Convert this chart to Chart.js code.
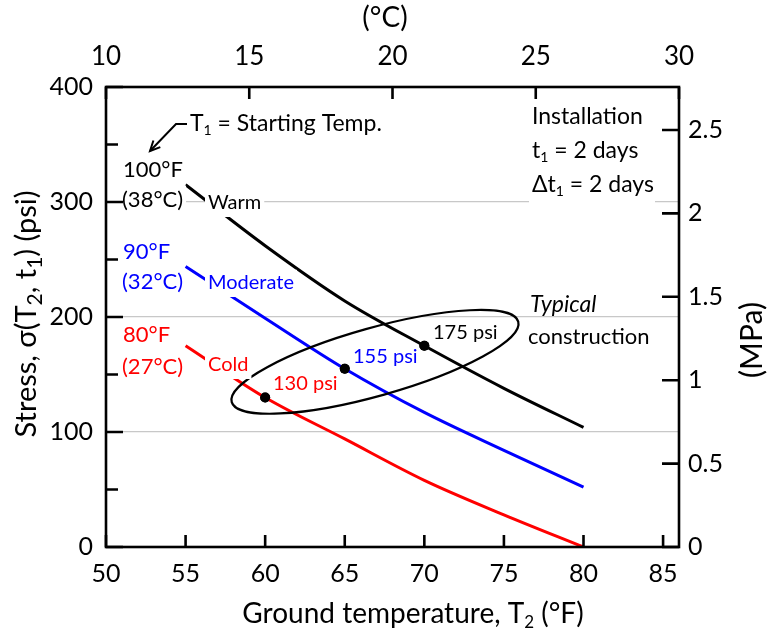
<!DOCTYPE html>
<html lang="en">
<head>
  <meta charset="UTF-8">
  <title>Stress vs ground temperature</title>
  <style>
    body { margin: 0; background: #fff; }
    #wrap { width: 768px; height: 636px; }
  </style>
</head>
<body>
  <div id="wrap"><canvas id="stressChart" width="768" height="636"></canvas></div>

  <script src="https://cdn.jsdelivr.net/npm/chart.js"></script>
  <script>
    // ground temperature T2 (°F) and stress sigma(T2, t1) in psi for each starting temperature
    const groundTempF = [55, 60, 65, 70, 75, 80];
    const warmStress = [315, 262, 214, 175, 138, 104];      // 100°F start
    const moderateStress = [244, 199, 155, 117, 84, 52];    // 90°F start
    const coldStress = [175, 130, 94, 58, 28, 0];           // 80°F start

    // typical construction points
    const typicalTempF = [60, 65, 70];
    const typicalStress = [130, 155, 175];

    // ellipse around typical construction: major axis ends (°F, psi)
    const ellipseEnds = [[57.9, 126], [75.9, 196]];

    // axis ticks
    const tempFTicks = [50, 55, 60, 65, 70, 75, 80, 85];
    const tempCTicks = [10, 15, 20, 25, 30];
    const psiTicks = [0, 50, 100, 150, 200, 250, 300, 350, 400];
    const mpaTicks = [0, 0.5, 1, 1.5, 2, 2.5];

    const PSI_PER_MPA = 145.038;
    const FONT = 'Lato, "Open Sans", sans-serif';

    Chart.defaults.font.family = FONT;
    Chart.defaults.color = '#000';

    function pts(ys) {
      return groundTempF.map((x, i) => ({ x: x, y: ys[i] }));
    }
    function fixedTicks(values) {
      return s => { s.ticks = values.map(v => ({ value: v })); };
    }

    // text with optional subscripts: parts are strings or {sub: '1'}
    function drawRich(ctx, parts, x, y, size, opts) {
      opts = opts || {};
      const style = opts.italic ? 'italic ' : '';
      const base = style + size + 'px ' + FONT;
      const small = Math.round(size * (opts.subScale || 0.62)) + 'px ' + FONT;
      let w = 0;
      parts.forEach(p => {
        ctx.font = typeof p === 'string' ? base : small;
        w += ctx.measureText(typeof p === 'string' ? p : p.sub).width;
      });
      let cx = opts.align === 'center' ? x - w / 2 : x;
      if (opts.bg) {
        ctx.fillStyle = '#fff';
        ctx.fillRect(cx - 3, y - size * 0.66, w + 6, size * 1.36);
      }
      ctx.fillStyle = opts.color || '#000';
      ctx.textAlign = 'left';
      ctx.textBaseline = 'middle';
      parts.forEach(p => {
        if (typeof p === 'string') {
          ctx.font = base;
          ctx.fillText(p, cx, y);
          cx += ctx.measureText(p).width;
        } else {
          ctx.font = small;
          ctx.fillText(p.sub, cx, y + size * 0.3);
          cx += ctx.measureText(p.sub).width;
        }
      });
      return w;
    }

    const labels = [
      { parts: ['100°F'], x: 123, y: 170, size: 22 },
      { parts: ['(38°C)'], x: 122, y: 200, size: 22, bg: true },
      { parts: ['Warm'], x: 208, y: 203, size: 20, bg: true },
      { parts: ['90°F'], x: 123, y: 252, size: 22, color: '#0000ff' },
      { parts: ['(32°C)'], x: 122, y: 282, size: 22, color: '#0000ff' },
      { parts: ['Moderate'], x: 208, y: 283, size: 20, color: '#0000ff', bg: true },
      { parts: ['80°F'], x: 123, y: 335, size: 22, color: '#ff0000' },
      { parts: ['(27°C)'], x: 122, y: 367, size: 22, color: '#ff0000' },
      { parts: ['Cold'], x: 208, y: 365, size: 20, color: '#ff0000', bg: true },
      { parts: ['130 psi'], x: 273, y: 384, size: 20, color: '#ff0000' },
      { parts: ['155 psi'], x: 353, y: 357, size: 20, color: '#0000ff' },
      { parts: ['175 psi'], x: 433, y: 333, size: 20 },
      { parts: ['T', { sub: '1' }, ' = Starting Temp.'], x: 190, y: 124, size: 23 },
      { parts: ['Installation'], x: 532, y: 117, size: 23 },
      { parts: ['t', { sub: '1' }, ' = 2 days'], x: 532, y: 151, size: 23 },
      { parts: ['\u0394t', { sub: '1' }, ' = 2 days'], x: 532, y: 185, size: 23 },
      { parts: ['Typical'], x: 530, y: 305, size: 23, italic: true },
      { parts: ['construction'], x: 528, y: 337, size: 22 }
    ];

    const overlay = {
      id: 'overlay',
      afterDatasetsDraw(chart) {
        const ctx = chart.ctx;
        const xs = chart.scales.x, ys = chart.scales.y;

        // ellipse
        const p1 = [xs.getPixelForValue(ellipseEnds[0][0]), ys.getPixelForValue(ellipseEnds[0][1])];
        const p2 = [xs.getPixelForValue(ellipseEnds[1][0]), ys.getPixelForValue(ellipseEnds[1][1])];
        const cx = (p1[0] + p2[0]) / 2, cy = (p1[1] + p2[1]) / 2;
        const a = Math.hypot(p2[0] - p1[0], p2[1] - p1[1]) / 2;
        const rot = Math.atan2(p2[1] - p1[1], p2[0] - p1[0]);
        ctx.save();
        ctx.strokeStyle = '#000';
        ctx.lineWidth = 2.2;
        ctx.beginPath();
        ctx.ellipse(cx, cy, a, 34, rot, 0, Math.PI * 2);
        ctx.stroke();
        ctx.restore();

        // dots on top of the ellipse
        chart.getDatasetMeta(3).controller.draw();

        ctx.save();
        // white block behind installation note
        ctx.fillStyle = '#fff';
        ctx.fillRect(529, 100, 126, 106);

        labels.forEach(l => drawRich(ctx, l.parts, l.x, l.y, l.size, l));

        // arrow to starting temperature labels
        ctx.strokeStyle = '#000';
        ctx.lineWidth = 2;
        ctx.beginPath();
        ctx.moveTo(187, 124);
        ctx.lineTo(176, 124);
        ctx.lineTo(150, 151);
        ctx.stroke();
        const ang = Math.atan2(151 - 124, 150 - 176);
        ctx.beginPath();
        ctx.moveTo(150 - 11 * Math.cos(ang - 0.45), 151 - 11 * Math.sin(ang - 0.45));
        ctx.lineTo(150, 151);
        ctx.lineTo(150 - 11 * Math.cos(ang + 0.45), 151 - 11 * Math.sin(ang + 0.45));
        ctx.stroke();
        ctx.restore();
      },
      afterDraw(chart) {
        const ctx = chart.ctx;
        const ca = chart.chartArea;
        const xs = chart.scales.x, x2 = chart.scales.x2, ys = chart.scales.y, y2 = chart.scales.y2;
        ctx.save();
        ctx.strokeStyle = '#000';
        ctx.lineWidth = 2.6;
        ctx.lineCap = 'square';
        ctx.strokeRect(ca.left, ca.top, ca.right - ca.left, ca.bottom - ca.top);

        // inward tick marks
        ctx.lineCap = 'butt';
        ctx.beginPath();
        xs.ticks.forEach(t => {
          const px = xs.getPixelForValue(t.value);
          ctx.moveTo(px, ca.bottom); ctx.lineTo(px, ca.bottom - 12);
        });
        x2.ticks.forEach(t => {
          const px = x2.getPixelForValue(t.value);
          ctx.moveTo(px, ca.top); ctx.lineTo(px, ca.top + 12);
        });
        ys.ticks.forEach(t => {
          const py = ys.getPixelForValue(t.value);
          const len = t.value % 100 === 0 ? 17 : 12;
          ctx.moveTo(ca.left, py); ctx.lineTo(ca.left + len, py);
        });
        y2.ticks.forEach(t => {
          const py = y2.getPixelForValue(t.value);
          ctx.moveTo(ca.right, py); ctx.lineTo(ca.right - 17, py);
        });
        ctx.stroke();

        // axis titles
        drawRich(ctx, ['Ground temperature, T', { sub: '2' }, ' (°F)'], 413, 614, 28, { align: 'center' });
        drawRich(ctx, ['(°C)'], 385, 18, 28, { align: 'center' });
        ctx.translate(27, 314);
        ctx.rotate(-Math.PI / 2);
        drawRich(ctx, ['Stress, \u03c3(T', { sub: '2' }, ', t', { sub: '1' }, ') (psi)'], 0, 0, 29, { align: 'center', subScale: 0.72 });
        ctx.restore();
        ctx.save();
        ctx.translate(752, 340);
        ctx.rotate(-Math.PI / 2);
        drawRich(ctx, ['(MPa)'], 0, 0, 30, { align: 'center' });
        ctx.restore();
      }
    };

    const lineStyle = { borderWidth: 3, pointRadius: 0, cubicInterpolationMode: 'monotone', fill: false };

    new Chart(document.getElementById('stressChart'), {
      type: 'line',
      data: {
        datasets: [
          Object.assign({ label: 'Warm', data: pts(warmStress), borderColor: '#000000' }, lineStyle),
          Object.assign({ label: 'Moderate', data: pts(moderateStress), borderColor: '#0000ff' }, lineStyle),
          Object.assign({ label: 'Cold', data: pts(coldStress), borderColor: '#ff0000' }, lineStyle),
          {
            label: 'Typical',
            type: 'scatter',
            data: typicalTempF.map((x, i) => ({ x: x, y: typicalStress[i] })),
            pointRadius: 5,
            pointBackgroundColor: '#000',
            pointBorderWidth: 0,
            showLine: false
          }
        ]
      },
      options: {
        responsive: false,
        animation: false,
        layout: { padding: 0 },
        plugins: { legend: { display: false }, tooltip: { enabled: false } },
        scales: {
          x: {
            type: 'linear', position: 'bottom', min: 50, max: 86,
            afterBuildTicks: fixedTicks(tempFTicks),
            afterFit: s => { s.height = 89; },
            ticks: { padding: 12, font: { size: 25 }, color: '#000' },
            grid: { display: false, drawTicks: false },
            border: { display: false }
          },
          x2: {
            type: 'linear', position: 'top', min: 10, max: 30,
            afterBuildTicks: fixedTicks(tempCTicks),
            afterFit: s => { s.height = 87; },
            ticks: { padding: 15, font: { size: 26 }, color: '#000' },
            grid: { display: false, drawTicks: false },
            border: { display: false }
          },
          y: {
            type: 'linear', position: 'left', min: 0, max: 400,
            afterBuildTicks: fixedTicks(psiTicks),
            afterFit: s => { s.width = 106; },
            ticks: {
              padding: 13, font: { size: 25 }, color: '#000',
              callback: v => (v % 100 === 0 ? String(v) : '')
            },
            grid: {
              drawTicks: false, lineWidth: 1.3,
              color: c => (c.tick && c.tick.value % 100 === 0 && c.tick.value > 0 && c.tick.value < 400) ? '#c8c8c8' : 'rgba(0,0,0,0)'
            },
            border: { display: false }
          },
          y2: {
            type: 'linear', position: 'right', min: 0, max: 400 / PSI_PER_MPA,
            afterBuildTicks: fixedTicks(mpaTicks),
            afterFit: s => { s.width = 89; },
            ticks: {
              padding: 9, font: { size: 25 }, color: '#000',
              callback: v => String(v)
            },
            grid: { display: false, drawTicks: false },
            border: { display: false }
          }
        }
      },
      plugins: [overlay]
    });
  </script>
</body>
</html>
